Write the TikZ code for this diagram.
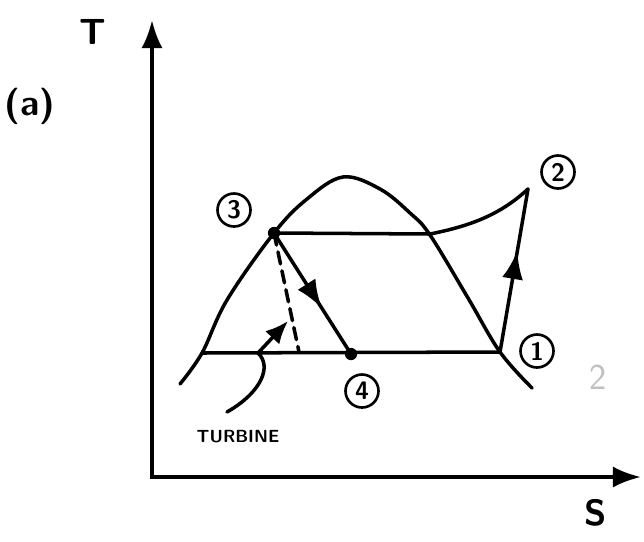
\documentclass[tikz,border=0pt]{standalone}
\usepackage{tikz}
\usetikzlibrary{arrows.meta, decorations.markings}

\begin{document}
\begin{tikzpicture}[x=0.02cm, y=-0.02cm,
		curve/.style={line width=2pt, line cap=round, line join=round},
		axis/.style={line width=2.1pt, -{Latex[length=16pt, width=12pt]}},
		midarrow/.style={curve, postaction={decorate}, decoration={markings,
				mark=at position #1 with {\arrow{Latex[length=16pt, width=12pt]}}}},
		statept/.style={circle, fill, inner sep=0pt, minimum size=7pt},
		statelbl/.style={circle, draw, line width=1.5pt, inner sep=1pt, minimum size=0.66cm, font=\sffamily\Large\bfseries},
		axislbl/.style={font=\sffamily\huge\bfseries}
	]
	\useasboundingbox (0,0) rectangle (644,541);
	% axes
	\coordinate (o) at (152,477);
	\coordinate (ytip) at (152,20);
	\coordinate (xtip) at (641,477);
	\draw[axis] (152,479) -- (ytip);
	\draw[axis] (150,477) -- (xtip);
	\node[axislbl] (tlbl) at (93,32) {T};
	\node[axislbl] (slbl) at (596,513) {S};
	\node[font=\sffamily\huge\bfseries] (case) at (30,106) {(a)};

	% saturation dome
	\draw[curve] plot[smooth, tension=0.6] coordinates {(180,384) (202,353) (227,300) (274,233)
			(307,199) (343,177) (380,189) (410,213) (430,235) (468,298) (500,352) (532,388)};

	% cycle states
	\coordinate (p1) at (500,352);
	\coordinate (p2) at (528,189);
	\node[statept] (p3) at (274,233) {};
	\node[statept] (p4) at (351,354) {};
	\coordinate (sat) at (430,234);
	\coordinate (liq) at (202,353);
	\coordinate (dash) at (299,352);

	\draw[curve] (p3.center) -- (sat);
	\draw[curve] (sat) .. controls (470,226) and (500,215) .. (p2);
	\draw[midarrow=0.62] (p1) -- (p2);
	\draw[curve] (liq) -- (p1);
	\draw[midarrow=0.62] (p3.center) -- (p4.center);
	\draw[curve, dash pattern=on 7pt off 4pt] (p3.center) -- (dash);

	% labels
	\node[statelbl] (l1) at (537,351) {1};
	\node[statelbl] (l2) at (558,172) {2};
	\node[statelbl] (l3) at (234,210) {3};
	\node[statelbl] (l4) at (362,391) {4};

	% turbine pointer
	\coordinate (tend) at (227,412);
	\coordinate (ttip) at (288,321);
	\draw[curve, -{Latex[length=13pt, width=11pt]}] (tend) .. controls (262,392) and (272,366) .. (258,353) -- (ttip);
	\node[font=\sffamily\bfseries] (turb) at (238,437) {TURBINE};

	% faint mark
	\node[text=black!25, font=\sffamily\huge] (faint) at (598,377) {2};
\end{tikzpicture}
\end{document}
